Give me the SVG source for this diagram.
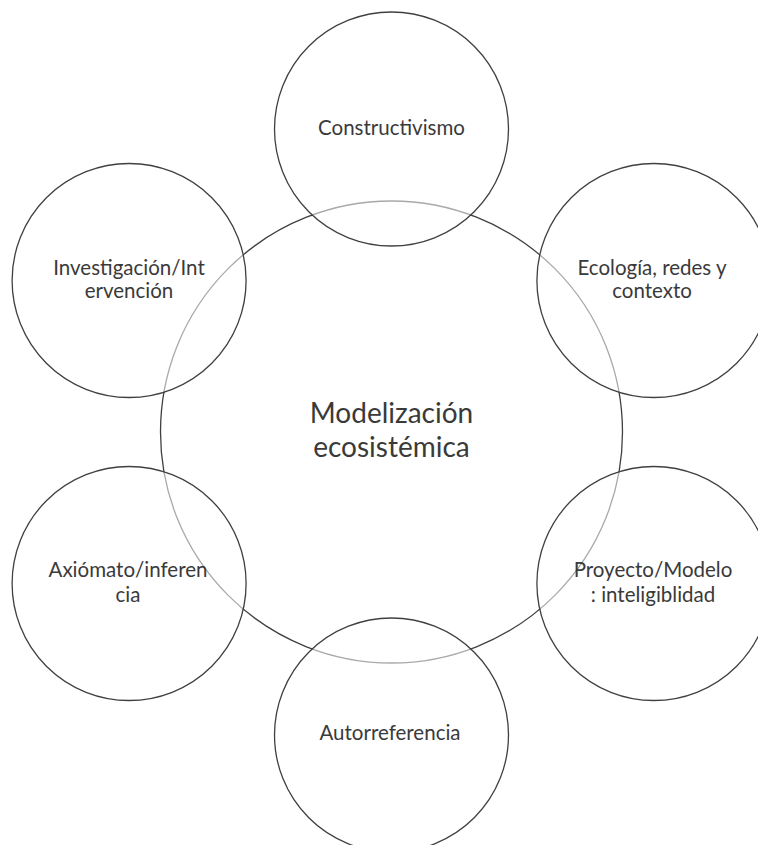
<svg xmlns="http://www.w3.org/2000/svg" width="758" height="845" viewBox="0 0 758 845">
<style>
.bg{fill:#ffffff}
.main{fill:#ffffff;stroke:#404040;stroke-width:1.3}
.sat{fill:#ffffff;fill-opacity:0.55;stroke:#404040;stroke-width:1.3}
.t{font-family:Lato,"Open Sans",sans-serif;fill:#3a3a3a;text-anchor:middle}
.s{font-size:20.5px}
.b{font-size:28px}
</style>
<rect class="bg" x="0" y="0" width="758" height="845"/>
<g id="center">
<circle class="main" cx="391.5" cy="432" r="231"/>
<text class="t b" x="391.5" y="423">Modelización</text>
<text class="t b" x="391.5" y="457">ecosistémica</text>
</g>
<g id="connectors"></g>
<g id="constructivismo">
<circle class="sat" cx="391.5" cy="129" r="117"/>
<text class="t s" x="391.5" y="135">Constructivismo</text>
</g>
<g id="ecologia">
<circle class="sat" cx="653.9" cy="280.5" r="117"/>
<text class="t s" x="652" y="275">Ecología, redes y</text>
<text class="t s" x="652" y="298">contexto</text>
</g>
<g id="proyecto">
<circle class="sat" cx="653.9" cy="583.5" r="117"/>
<text class="t s" x="653" y="577">Proyecto/Modelo</text>
<text class="t s" x="653" y="602">: inteligiblidad</text>
</g>
<g id="autorreferencia">
<circle class="sat" cx="391.5" cy="735" r="117"/>
<text class="t s" x="390" y="740">Autorreferencia</text>
</g>
<g id="axiomato">
<circle class="sat" cx="129.1" cy="583.5" r="117"/>
<text class="t s" x="128" y="577">Axiómato/inferen</text>
<text class="t s" x="128" y="602">cia</text>
</g>
<g id="investigacion">
<circle class="sat" cx="129.1" cy="280.5" r="117"/>
<text class="t s" x="129" y="275">Investigación/Int</text>
<text class="t s" x="129" y="298">ervención</text>
</g>
</svg>
